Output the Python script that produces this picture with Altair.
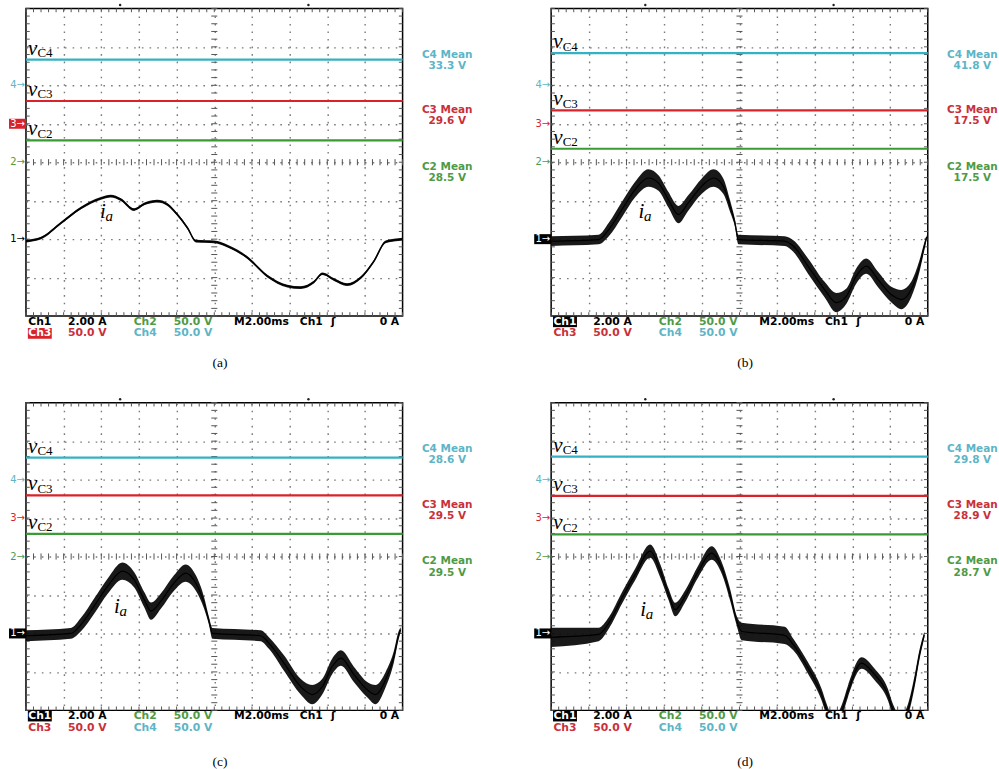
import altair as alt
import pandas as pd
import numpy as np

# ---------------- values ----------------
captions = ["(a)", "(b)", "(c)", "(d)"]

# mean capacitor voltages shown on screen (V), 50 V/div
c4_mean = [33.3, 41.8, 28.6, 29.8]
c3_mean = [29.6, 17.5, 29.5, 28.9]
c2_mean = [28.5, 17.5, 29.5, 28.7]

# phase current i_a (2 A/div, 2 ms/div): time (ms), current (A), ripple half-amplitude (A)
t_a = [0, 0.8, 1.86, 2.92, 3.98, 4.5, 5.04, 5.74, 6.3, 6.98, 7.52, 8.04, 8.58, 9.02, 10.0,
       10.7, 11.76, 12.82, 13.88, 14.58, 15.3, 15.74, 16.36, 17.06, 17.78, 18.48, 19.1, 19.8, 20.0]
i_a = [-0.1, 0.06, 0.84, 1.62, 2.12, 2.24, 2.06, 1.54, 1.84, 1.98, 1.80, 1.28, 0.58, -0.1, -0.14,
       -0.36, -0.96, -1.92, -2.44, -2.52, -2.22, -1.80, -2.10, -2.36, -2.0, -1.14, -0.14, -0.02, 0.0]
r_a = [0.07] * len(t_a)

t_b = [0, 2.52, 3.06, 3.76, 4.46, 5.16, 5.7, 6.22, 6.76, 7.28, 8.0, 8.62, 9.14, 9.5, 9.76, 9.94,
       12.4, 12.86, 13.64, 14.52, 15.14, 15.68, 16.2, 16.74, 17.36, 18.06, 18.6, 19.12, 19.56, 19.82, 19.94]
i_b = [-0.1, -0.02, 0.5, 1.54, 2.58, 3.18, 2.92, 2.06, 1.28, 1.88, 2.76, 3.18, 2.76, 1.72, 0.84, -0.02,
       -0.1, -0.36, -1.4, -2.62, -3.3, -2.96, -1.92, -1.4, -2.1, -2.88, -3.14, -2.62, -1.4, -0.36, 0.1]
r_b = [0.25, 0.25, 0.35, 0.4, 0.4, 0.45, 0.4, 0.4, 0.45, 0.4, 0.4, 0.45, 0.4, 0.3, 0.2, 0.25,
       0.25, 0.3, 0.4, 0.4, 0.5, 0.4, 0.4, 0.4, 0.4, 0.4, 0.5, 0.4, 0.3, 0.2, 0.12]

t_c = [0, 2.38, 2.92, 3.62, 4.34, 5.12, 5.74, 6.28, 6.64, 7.16, 7.86, 8.48, 9.02, 9.46, 9.72, 9.9,
       12.46, 12.9, 13.7, 14.58, 15.2, 15.74, 16.26, 16.72, 17.42, 18.12, 18.56, 19.1, 19.54, 19.8, 19.9]
i_c = [-0.12, 0, 0.46, 1.42, 2.46, 3.24, 2.8, 1.76, 1.16, 1.68, 2.62, 3.14, 2.62, 1.58, 0.64, 0,
       -0.12, -0.5, -1.54, -2.76, -3.18, -2.76, -1.72, -1.28, -2.14, -2.92, -3.18, -2.4, -1.2, -0.06, 0.2]
r_c = [0.28, 0.28, 0.35, 0.4, 0.4, 0.45, 0.4, 0.4, 0.45, 0.4, 0.4, 0.45, 0.4, 0.3, 0.2, 0.28,
       0.28, 0.3, 0.4, 0.4, 0.5, 0.4, 0.4, 0.4, 0.4, 0.4, 0.5, 0.4, 0.3, 0.2, 0.12]

t_d = [0, 2.52, 3.06, 3.76, 4.46, 5.26, 5.8, 6.24, 6.58, 7.12, 7.82, 8.52, 9.06, 9.5, 9.86, 10.12,
       12.4, 12.86, 13.64, 14.36, 14.64, 15.0, 15.44, 15.76, 16.48, 17.18, 17.88, 18.16, 18.56, 18.94,
       19.3, 19.56, 19.82]
i_d = [-0.2, -0.05, 0.54, 1.84, 3.06, 4.28, 3.24, 2.02, 1.24, 1.94, 3.24, 4.18, 3.4, 2.02, 0.64, 0.1,
       -0.1, -0.58, -1.8, -3.18, -4.0, -4.7, -4.0, -3.02, -1.54, -2.14, -3.18, -4.0, -4.6, -4.0,
       -2.5, -1.1, -0.06]
r_d = [0.5, 0.35, 0.3, 0.3, 0.3, 0.35, 0.35, 0.3, 0.35, 0.3, 0.3, 0.35, 0.3, 0.3, 0.25, 0.45,
       0.45, 0.3, 0.3, 0.3, 0.3, 0.3, 0.3, 0.3, 0.3, 0.3, 0.3, 0.3, 0.3, 0.3,
       0.3, 0.25, 0.15]

# label positions of i_a (time ms, screen div)
ia_pos = [(3.93, -1.455), (4.64, -1.46), (4.68, -1.48), (4.73, -1.54)]
# highlighted channel of each screenshot
selected = ["3", "1", "1", "1"]

# scope settings
CH_OFF = {"1": -2.0, "2": 0.0, "3": 1.0, "4": 2.0}   # channel offsets (div)
V_PER_DIV = 50.0
A_PER_DIV = 2.0

# ---------------- styling ----------------
W, H = 377, 308
CYAN, RED, GREEN = "#34b2c3", "#d8232a", "#3a9a34"
CYAN_T, RED_T, GREEN_T = "#5db5c6", "#c9303a", "#4f9a46"
SCOPE_FONT = "DejaVu Sans"
SERIF = "Liberation Serif"

XS = alt.Scale(domain=[0, 20], nice=False, zero=False)
YS = alt.Scale(domain=[-4, 4], nice=False, zero=False)
XA = alt.Axis(values=list(range(2, 20, 2)), grid=True, gridDash=[1.6, 5.94], gridColor="#7a7a7a",
              gridWidth=1.4, labels=False, ticks=False, domain=False, title=None)
YA = alt.Axis(values=[-3, -2, -1, 0, 1, 2, 3], grid=True, gridDash=[1.6, 6.1], gridColor="#7a7a7a",
              gridWidth=1.4, labels=False, ticks=False, domain=False, title=None)


def X(f):
    return alt.X(f, type="quantitative", scale=XS, axis=XA)


def Y(f):
    return alt.Y(f, type="quantitative", scale=YS, axis=YA)


def graticule():
    rows = []
    for yv in np.arange(-4, 4.001, 0.2):
        rows.append((9.84, 10.16, yv, yv))
        rows.append((0.0, 0.2, yv, yv))
        rows.append((19.8, 20.0, yv, yv))
    for xv in np.arange(0, 20.001, 0.4):
        rows.append((xv, xv, -0.08, 0.08))
        rows.append((xv, xv, 3.9, 4.0))
        rows.append((xv, xv, -4.0, -3.9))
    return pd.DataFrame(rows, columns=["x", "x2", "y", "y2"])


GRAT = graticule()


def panel(k, t, cur, rip, cap_y):
    sel = selected[k]
    layers = []
    # graticule ticks
    layers.append(alt.Chart(GRAT).mark_rule(color="#555555", strokeWidth=1).encode(
        x=X("x"), x2="x2", y=Y("y"), y2="y2"))
    # capacitor voltage traces
    lv = pd.DataFrame({
        "x0": [0.0, 0.0, 0.0],
        "level": [CH_OFF["4"] + c4_mean[k] / V_PER_DIV,
                  CH_OFF["3"] + c3_mean[k] / V_PER_DIV,
                  CH_OFF["2"] + c2_mean[k] / V_PER_DIV],
        "sub": ["C4", "C3", "C2"],
        "col": [CYAN, RED, GREEN]})
    layers.append(alt.Chart(lv).mark_rule(strokeWidth=2.2).encode(
        y=Y("level"), color=alt.Color("col:N", scale=None)))
    layers.append(alt.Chart(lv).mark_text(text="v", font=SERIF, fontStyle="italic", fontSize=21,
                                          align="left", baseline="alphabetic", dx=2, dy=-5,
                                          color="black").encode(x=X("x0"), y=Y("level")))
    layers.append(alt.Chart(lv).mark_text(font=SERIF, fontSize=13, align="left",
                                          baseline="alphabetic", dx=11.5, dy=-2.5,
                                          color="black").encode(x=X("x0"), y=Y("level"), text="sub:N"))
    # current trace with its switching ripple
    ic = pd.DataFrame({"t": t, "i": cur, "r": rip})
    ic["yd"] = CH_OFF["1"] + ic["i"] / A_PER_DIV
    ic["lo"] = ic["yd"] - ic["r"] / A_PER_DIV
    ic["hi"] = ic["yd"] + ic["r"] / A_PER_DIV
    layers.append(alt.Chart(ic).mark_area(color="#0d0d0d", clip=True, opacity=0.95,
                                          interpolate="monotone").encode(
        x=X("t"), y=Y("lo"), y2="hi"))
    layers.append(alt.Chart(ic).mark_line(color="black", strokeWidth=1.5 if k == 0 else 1.2,
                                          clip=True, interpolate="monotone").encode(
        x=X("t"), y=Y("yd")))
    # i_a label
    ia = pd.DataFrame({"x": [ia_pos[k][0]], "y": [ia_pos[k][1]]})
    layers.append(alt.Chart(ia).mark_text(text="i", font=SERIF, fontStyle="italic", fontSize=21,
                                          align="left", baseline="alphabetic", color="black").encode(
        x=X("x"), y=Y("y")))
    layers.append(alt.Chart(ia).mark_text(text="a", font=SERIF, fontStyle="italic", fontSize=15,
                                          align="left", baseline="alphabetic", dx=5.5, dy=3,
                                          color="black").encode(x=X("x"), y=Y("y")))
    # mean read-outs on the right
    rl = pd.DataFrame({
        "x": [22.37] * 6,
        "y": [2.8, 2.51, 1.35, 1.06, -0.12, -0.42],
        "text": ["C4 Mean", f"{c4_mean[k]:.1f} V", "C3 Mean", f"{c3_mean[k]:.1f} V",
                 "C2 Mean", f"{c2_mean[k]:.1f} V"],
        "col": [CYAN_T, CYAN_T, RED_T, RED_T, GREEN_T, GREEN_T]})
    layers.append(alt.Chart(rl).mark_text(font=SCOPE_FONT, fontWeight="bold", fontSize=10.5,
                                          align="center", baseline="middle").encode(
        x=X("x"), y=Y("y"), text="text:N", color=alt.Color("col:N", scale=None)))
    # channel ground markers on the left
    chs = ["4", "3", "2", "1"]
    mk_cols = {"4": CYAN_T, "3": RED, "2": GREEN_T, "1": "black"}
    mk = pd.DataFrame({
        "x": [0.0] * 4,
        "y": [CH_OFF[c] for c in chs],
        "text": [c + "\u2192" for c in chs],
        "col": ["white" if c == sel else mk_cols[c] for c in chs]})
    box = pd.DataFrame({"x1": [-0.9], "x2": [0.0], "y1": [CH_OFF[sel] - 0.13],
                        "y2": [CH_OFF[sel] + 0.13], "col": [mk_cols[sel]]})
    layers.append(alt.Chart(box).mark_rect().encode(
        x=X("x1"), x2="x2", y=Y("y1"), y2="y2", color=alt.Color("col:N", scale=None)))
    layers.append(alt.Chart(mk).mark_text(font=SCOPE_FONT, fontSize=10, align="right",
                                          baseline="middle", dx=-1).encode(
        x=X("x"), y=Y("y"), text="text:N", color=alt.Color("col:N", scale=None)))
    # bottom status text
    r1, r2 = -4.148, -4.45
    bt = pd.DataFrame({
        "x": [0.12, 2.23, 5.72, 7.85, 11.05, 14.54, 16.2, 0.12, 2.23, 5.72, 7.85],
        "y": [r1] * 7 + [r2] * 4,
        "text": ["Ch1", "2.00 A", "Ch2", "50.0 V", "M2.00ms", "Ch1", "\u0283",
                 "Ch3", "50.0 V", "Ch4", "50.0 V"],
        "col": ["white" if sel == "1" else "black", "black", GREEN_T, GREEN_T, "black", "black",
                "black", "white" if sel == "3" else RED_T, RED_T, CYAN_T, CYAN_T]})
    hb_y = r1 if sel == "1" else r2
    hb = pd.DataFrame({"x1": [0.1], "x2": [1.37], "y1": [hb_y - 0.14], "y2": [hb_y + 0.14],
                       "col": ["black" if sel == "1" else RED]})
    layers.append(alt.Chart(hb).mark_rect().encode(
        x=X("x1"), x2="x2", y=Y("y1"), y2="y2", color=alt.Color("col:N", scale=None)))
    layers.append(alt.Chart(bt).mark_text(font=SCOPE_FONT, fontWeight="bold", fontSize=10.8,
                                          align="left", baseline="middle").encode(
        x=X("x"), y=Y("y"), text="text:N", color=alt.Color("col:N", scale=None)))
    za = pd.DataFrame({"x": [19.82], "y": [r1]})
    layers.append(alt.Chart(za).mark_text(text="0 A", font=SCOPE_FONT, fontWeight="bold",
                                          fontSize=10.8, align="right", baseline="middle",
                                          color="black").encode(x=X("x"), y=Y("y")))
    # trigger cursor marks above the screen
    tr = pd.DataFrame({"x": [5.0, 15.0], "y": [4.09, 4.09]})
    layers.append(alt.Chart(tr).mark_point(filled=True, size=6, color="#222222", opacity=1).encode(
        x=X("x"), y=Y("y")))
    # caption
    cp = pd.DataFrame({"x": [10.3], "y": [cap_y], "text": [captions[k]]})
    layers.append(alt.Chart(cp).mark_text(font=SERIF, fontSize=13.5, align="center",
                                          baseline="middle", color="black").encode(
        x=X("x"), y=Y("y"), text="text:N"))
    return alt.layer(*layers).properties(width=W, height=H)


pa = panel(0, t_a, i_a, r_a, -5.21)
pb = panel(1, t_b, i_b, r_b, -5.21)
pc = panel(2, t_c, i_c, r_c, -5.33)
pd_ = panel(3, t_d, i_d, r_d, -5.33)

chart = alt.concat(pa, pb, pc, pd_, columns=2, spacing={"row": 86.7, "column": 148.7},
                   bounds="flush").properties(
    padding={"left": 8, "top": 2, "right": 0, "bottom": 0},
    background="white",
).configure_view(stroke="black", strokeWidth=1.5)

chart.save("out.html", embed_options={"renderer": "svg", "actions": False})
